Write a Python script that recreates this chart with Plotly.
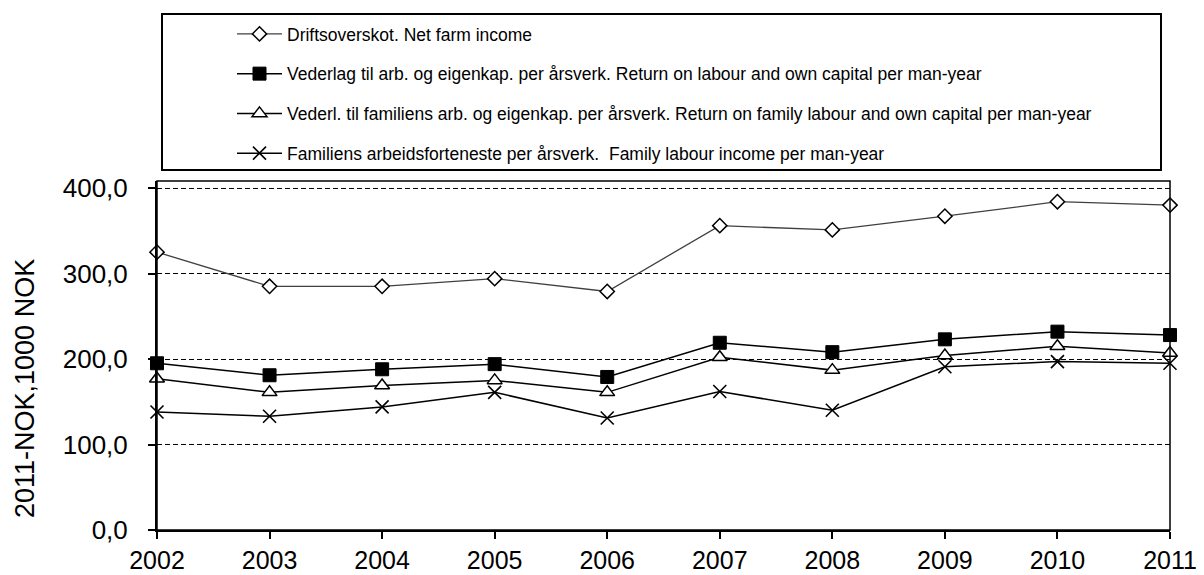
import plotly.graph_objects as go

years = [2002, 2003, 2004, 2005, 2006, 2007, 2008, 2009, 2010, 2011]

net_farm_income = [325, 285, 285, 294, 279, 356, 351, 367, 384, 380]
return_labour_capital = [195, 181, 188, 194, 179, 219, 208, 223, 232, 228]
return_family_labour_capital = [177, 161, 169, 175, 161, 202, 187, 204, 215, 207]
family_labour_income = [138, 133, 144, 161, 131, 162, 140, 191, 197, 195]

names = [
    "Driftsoverskot. Net farm income",
    "Vederlag til arb. og eigenkap. per årsverk. Return on labour and own capital per man-year",
    "Vederl. til familiens arb. og eigenkap. per årsverk. Return on family labour and own capital per man-year",
    "Familiens arbeidsforteneste per årsverk.  Family labour income per man-year",
]

font = "Liberation Sans, Arial, sans-serif"

# the page body has an 8px margin, so the figure is 8px smaller
W, H = 1196, 567
ML, MR, MT, MB = 149, 34, 173, 45
PW, PH = W - ML - MR, H - MT - MB


def px_x(x):
    return (x - 8 - ML) / PW


def px_y(y):
    return (H - MB - (y - 8)) / PH


fig = go.Figure()

fig.add_trace(go.Scatter(
    x=years, y=net_farm_income, name=names[0], legendgroup="a",
    mode="lines+markers", line=dict(color="#404040", width=1.3),
    marker=dict(symbol="diamond", size=11, color="white", line=dict(color="black", width=1.5)),
    cliponaxis=False))
fig.add_trace(go.Scatter(
    x=years, y=return_labour_capital, name=names[1], legendgroup="b",
    mode="lines+markers", line=dict(color="black", width=1.5),
    marker=dict(symbol="square", size=13, color="black", line=dict(color="black", width=1)),
    cliponaxis=False))
fig.add_trace(go.Scatter(
    x=years, y=return_family_labour_capital, name=names[2], legendgroup="c",
    mode="lines+markers", line=dict(color="black", width=1.5),
    marker=dict(symbol="triangle-up", size=13, color="white", line=dict(color="black", width=1.5)),
    cliponaxis=False))
fig.add_trace(go.Scatter(
    x=years, y=family_labour_income, name=names[3], legendgroup="d",
    mode="lines+markers", line=dict(color="black", width=1.5),
    marker=dict(symbol="x-thin", size=13, color="black", line=dict(color="black", width=1.6)),
    cliponaxis=False))

# legend frame
fig.add_shape(type="rect", xref="paper", yref="paper",
              x0=px_x(162), x1=px_x(1161), y0=px_y(170), y1=px_y(14),
              line=dict(color="black", width=2), fillcolor="rgba(0,0,0,0)")
# plot area frame
fig.add_shape(type="rect", xref="paper", yref="paper", x0=0, x1=1, y0=0, y1=1,
              line=dict(color="black", width=1.5), fillcolor="rgba(0,0,0,0)")

fig.add_annotation(text="2011-NOK,1000 NOK", textangle=-90, showarrow=False,
                   xref="paper", yref="paper", x=px_x(25), y=px_y(389),
                   xanchor="center", yanchor="middle",
                   font=dict(family=font, size=27, color="black"))

fig.update_layout(
    width=W, height=H,
    margin=dict(l=ML, r=MR, t=MT, b=MB, autoexpand=False),
    paper_bgcolor="white", plot_bgcolor="white",
    separators=",.",
    showlegend=True,
    legend=dict(xref="container", yref="container",
                x=(232 - 8) / W, y=1 - (16 - 8) / H, xanchor="left", yanchor="top",
                bgcolor="rgba(0,0,0,0)", borderwidth=0, traceorder="grouped",
                tracegroupgap=14, itemwidth=45,
                font=dict(family=font, size=17.5, color="black")),
    xaxis=dict(range=[2002, 2011], tickvals=years, ticks="outside", ticklen=7,
               tickwidth=1.5, tickcolor="black", showline=True, linecolor="black",
               linewidth=2, showgrid=False, zeroline=False, ticklabelstandoff=0,
               automargin=False,
               tickfont=dict(family=font, size=25, color="black")),
    yaxis=dict(range=[0, 408.2], tickvals=[0, 100, 200, 300, 400], tickformat=".1f",
               ticks="outside", ticklen=7, tickwidth=1.5, tickcolor="black",
               showline=True, linecolor="black", linewidth=2,
               showgrid=True, gridcolor="black", gridwidth=1.3, griddash="5px,3px",
               zeroline=False, ticklabelstandoff=15, automargin=False,
               tickfont=dict(family=font, size=26, color="black")),
)

fig.write_html("out.html")
